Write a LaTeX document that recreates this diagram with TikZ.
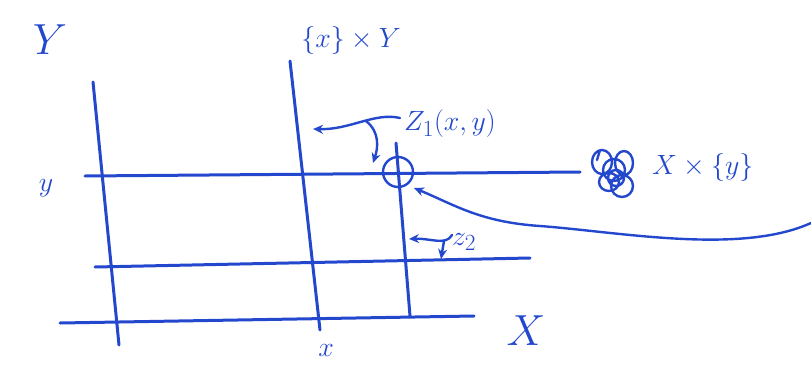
\documentclass[tikz,border=0pt]{standalone}
\usepackage{graphicx}
\usetikzlibrary{arrows.meta}
\definecolor{penblue}{RGB}{35,72,205}
\newcommand{\mylab}[1]{\scalebox{1.12}{\Huge #1}}
\newcommand{\mybiglab}[1]{\scalebox{1.75}{\Huge #1}}
\tikzset{
  pen/.style={draw=penblue,line width=3pt,line cap=round,line join=round},
  thinpen/.style={draw=penblue,line width=2.4pt,line cap=round,line join=round},
  arr/.style={thinpen,-{Stealth[length=10pt,width=9pt]}},
  lab/.style={text=penblue,inner sep=0pt}
}
\begin{document}
\begin{tikzpicture}[x=1pt,y=-1pt]
\useasboundingbox (0,0) rectangle (811,367);
% coordinates
\coordinate (vl1) at (93,82);   \coordinate (vl2) at (119,345);
\coordinate (vm1) at (290,61);  \coordinate (vm2) at (320,330);
\coordinate (vr1) at (396,143); \coordinate (vr2) at (410,316);
\coordinate (hy1) at (85,176);  \coordinate (hy2) at (580,172);
\coordinate (hm1) at (95,267);  \coordinate (hm2) at (530,258);
\coordinate (hb1) at (60,323);  \coordinate (hb2) at (474,316);
\coordinate (zs) at (400,118);
\coordinate (zb) at (366,121);
\coordinate (zt1) at (313,129);
\coordinate (zt2) at (373,163);
\coordinate (ws) at (811,223);
\coordinate (wt) at (414,188);
\coordinate (z2s) at (452,235);
\coordinate (z2b) at (444,241);
\coordinate (z2t1) at (409,239);
\coordinate (z2t2) at (441,259);
% lines
\draw[pen] (vl1) -- (vl2);
\draw[pen] (vm1) -- (vm2);
\draw[pen] (vr1) -- (vr2);
\draw[pen] (hy1) -- (hy2);
\draw[pen] (hm1) -- (hm2);
\draw[pen] (hb1) -- (hb2);
% circle
\node[circle,thinpen,minimum size=30pt,inner sep=0pt] (pt) at (398,172) {};
% labels
\node[lab] (Ylab) at (50,40) {\mybiglab{$Y$}};
\node[lab] (Xlab) at (526,331) {\mybiglab{$X$}};
\node[lab] (xYlab) at (351,41) {\mylab{$\{x\}\times Y$}};
\node[lab] (ylab) at (46,188) {\mylab{$y$}};
\node[lab] (xlab) at (326,350) {\mylab{$x$}};
\node[lab,anchor=west] (zlab) at (404,124) {\mylab{$Z_1(x,y)$}};
\node[lab,anchor=west] (z2lab) at (452,242) {\mylab{$z_2$}};
\node[lab,anchor=west] (Xylab) at (652,168) {\mylab{$X\times\{y\}$}};
% scribble
\draw[thinpen] (602,162) ellipse (10pt and 12pt) (614,170) circle (11pt) (609,182) ellipse (10pt and 9pt) (622,186) circle (11pt) (624,163) ellipse (9pt and 12pt) (616,178) circle (8pt) (600,150) -- (597,160);
% arrows from Z
\draw[arr] (zs) .. controls (375,112) and (350,130) .. (zt1);
\draw[arr] (zb) .. controls (380,132) and (378,148) .. (zt2);
% wave arrow
\draw[arr] (ws) .. controls (740,255) and (620,232) .. (540,226) .. controls (480,222) and (455,205) .. (wt);
% z2 arrows
\draw[arr] (z2s) .. controls (446,246) and (430,238) .. (z2t1);
\draw[arr] (z2b) -- (z2t2);
\end{tikzpicture}
\end{document}
